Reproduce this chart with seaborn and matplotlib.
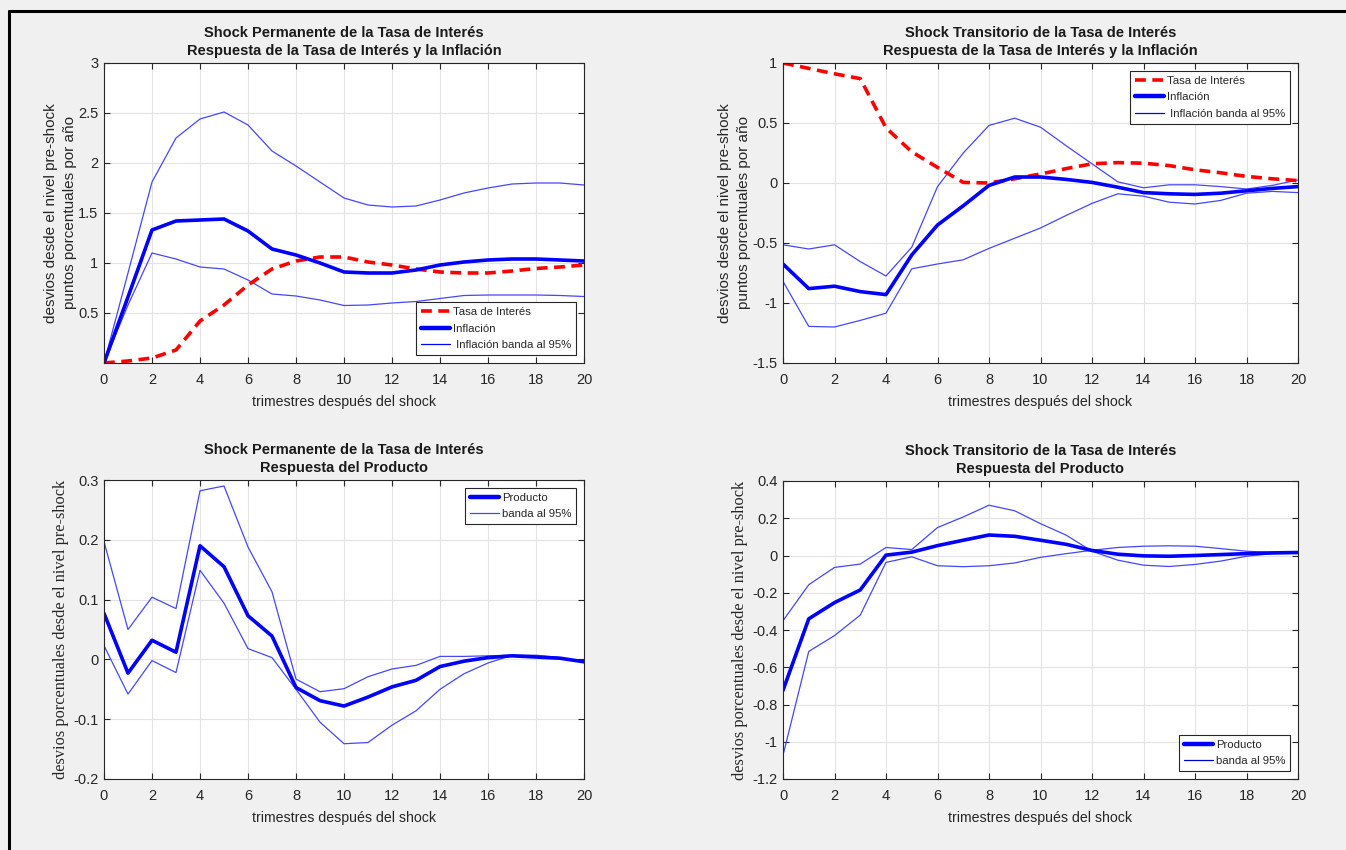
import numpy as np
import pandas as pd
import matplotlib
matplotlib.use("Agg")
import matplotlib.pyplot as plt
from matplotlib.lines import Line2D
import seaborn as sns

# ================= DATA =================
trimestres = list(range(21))

# Shock permanente - tasa e inflacion
perm_tasa = [0.0, 0.02, 0.05, 0.13, 0.42, 0.58, 0.78, 0.94, 1.02, 1.06, 1.06,
             1.01, 0.98, 0.94, 0.91, 0.90, 0.90, 0.92, 0.945, 0.96, 0.98]
perm_infl = [0.0, 0.66, 1.33, 1.42, 1.43, 1.44, 1.32, 1.14, 1.08, 1.00, 0.91,
             0.90, 0.90, 0.93, 0.98, 1.01, 1.03, 1.04, 1.04, 1.03, 1.02]
perm_infl_sup = [0.0, 0.90, 1.81, 2.25, 2.44, 2.51, 2.38, 2.12, 1.97, 1.81, 1.65,
                 1.58, 1.56, 1.57, 1.63, 1.70, 1.75, 1.79, 1.80, 1.80, 1.78]
perm_infl_inf = [0.0, 0.58, 1.10, 1.04, 0.96, 0.94, 0.83, 0.69, 0.67, 0.63, 0.575,
                 0.58, 0.60, 0.615, 0.645, 0.675, 0.68, 0.68, 0.68, 0.675, 0.665]

# Shock transitorio - tasa e inflacion
trans_tasa = [1.0, 0.955, 0.91, 0.87, 0.46, 0.26, 0.13, 0.005, 0.0, 0.035, 0.075,
              0.12, 0.16, 0.17, 0.165, 0.145, 0.11, 0.085, 0.055, 0.035, 0.02]
trans_infl = [-0.675, -0.88, -0.86, -0.905, -0.93, -0.60, -0.35, -0.19, -0.02, 0.05, 0.05,
              0.03, 0.005, -0.035, -0.08, -0.09, -0.095, -0.085, -0.065, -0.045, -0.03]
trans_infl_sup = [-0.515, -0.55, -0.515, -0.655, -0.775, -0.535, -0.03, 0.25, 0.48, 0.54, 0.465,
                  0.31, 0.16, 0.01, -0.04, -0.015, -0.015, -0.03, -0.05, -0.02, 0.025]
trans_infl_inf = [-0.82, -1.195, -1.20, -1.145, -1.085, -0.715, -0.675, -0.64, -0.545, -0.46, -0.375,
                  -0.27, -0.17, -0.09, -0.11, -0.16, -0.175, -0.145, -0.085, -0.07, -0.08]

# Shock permanente - producto
perm_prod = [0.077, -0.023, 0.032, 0.012, 0.19, 0.155, 0.073, 0.039, -0.047, -0.069, -0.078,
             -0.063, -0.046, -0.035, -0.012, -0.003, 0.003, 0.006, 0.004, 0.002, -0.004]
perm_prod_sup = [0.197, 0.05, 0.104, 0.085, 0.282, 0.29, 0.188, 0.113, -0.033, -0.054, -0.049,
                 -0.029, -0.016, -0.01, 0.005, 0.005, 0.006, 0.007, 0.007, 0.003, -0.004]
perm_prod_inf = [0.023, -0.058, -0.002, -0.022, 0.149, 0.094, 0.018, 0.003, -0.05, -0.105, -0.141,
                 -0.139, -0.11, -0.086, -0.05, -0.024, -0.006, 0.007, 0.004, 0.002, -0.004]

# Shock transitorio - producto
trans_prod = [-0.724, -0.34, -0.253, -0.185, 0.002, 0.018, 0.053, 0.082, 0.11, 0.103, 0.082,
              0.06, 0.027, 0.007, -0.002, -0.004, 0.0, 0.005, 0.01, 0.014, 0.016]
trans_prod_sup = [-0.35, -0.157, -0.064, -0.046, 0.043, 0.032, 0.15, 0.207, 0.27, 0.24, 0.171,
                  0.109, 0.023, -0.025, -0.052, -0.059, -0.048, -0.03, -0.004, 0.01, 0.012]
trans_prod_inf = [-1.073, -0.515, -0.43, -0.32, -0.037, -0.007, -0.055, -0.06, -0.055, -0.04, -0.01,
                  0.01, 0.028, 0.043, 0.05, 0.052, 0.05, 0.037, 0.023, 0.016, 0.012]

xticks = list(range(0, 21, 2))
yticks_perm_infl = [0.5, 1, 1.5, 2, 2.5, 3]
yticks_trans_infl = [-1.5, -1, -0.5, 0, 0.5, 1]
yticks_perm_prod = [-0.2, -0.1, 0, 0.1, 0.2, 0.3]
yticks_trans_prod = [-1.2, -1, -0.8, -0.6, -0.4, -0.2, 0, 0.2, 0.4]

# ================= STYLE =================
sns.set_theme(style="whitegrid")
plt.rcParams['font.family'] = ['Liberation Sans', 'DejaVu Sans']
plt.rcParams.update({
    'figure.facecolor': '#f0f0f0',
    'axes.facecolor': 'white',
    'axes.edgecolor': '#262626',
    'axes.linewidth': 0.8,
    'grid.color': '#e3e3e3',
    'grid.linewidth': 0.8,
    'xtick.direction': 'in',
    'ytick.direction': 'in',
    'xtick.color': '#262626',
    'ytick.color': '#262626',
    'xtick.labelcolor': '#262626',
    'ytick.labelcolor': '#262626',
    'xtick.labelsize': 10.5,
    'ytick.labelsize': 10.5,
    'xtick.major.size': 4,
    'ytick.major.size': 4,
    'xtick.major.width': 0.8,
    'ytick.major.width': 0.8,
    'xtick.major.pad': 7,
    'ytick.major.pad': 4,
    'xtick.bottom': True,
    'xtick.top': True,
    'ytick.left': True,
    'ytick.right': True,
    'xtick.labeltop': False,
    'ytick.labelright': False,
})

RED = '#ff0000'
BLUE = '#0000ff'
BAND = '#4646ff'
THICK = 2.6
THIN = 0.9

W, H = 1346, 850
fig = plt.figure(figsize=(W / 100, H / 100), dpi=100)


def px_axes(left, right, top, bottom):
    return fig.add_axes([left / W, 1 - bottom / H, (right - left) / W, (bottom - top) / H])


ax1 = px_axes(104, 584, 63, 363)
ax2 = px_axes(783, 1298, 63, 363)
ax3 = px_axes(104, 584, 480, 779)
ax4 = px_axes(783, 1298, 481, 779)


def line(ax, y, color, lw, ls='-', dashes=None):
    df = pd.DataFrame({'t': trimestres, 'v': y})
    sns.lineplot(data=df, x='t', y='v', ax=ax, color=color, linewidth=lw,
                 linestyle=ls, legend=False, sort=False)
    if dashes is not None:
        ax.lines[-1].set_dashes(dashes)


def style_axes(ax, yticks, ylim, title, ylabel, serif=False):
    ax.set_xlim(0, 20)
    ax.set_ylim(*ylim)
    ax.set_xticks(xticks)
    ax.set_yticks(yticks)
    ax.set_yticklabels([f'{v:g}' for v in yticks])
    ax.grid(True)
    ax.set_title(title, fontsize=10.5, fontweight='bold', color='#1a1a1a',
                 pad=6, linespacing=1.35)
    ax.set_xlabel('trimestres después del shock', fontsize=10.2, color='#262626', labelpad=6)
    if serif:
        ax.set_ylabel(ylabel, fontsize=11.8, color='#262626', family='Liberation Serif', labelpad=3)
    else:
        ax.set_ylabel(ylabel, fontsize=11, color='#262626', labelpad=1, linespacing=1.4)
    for s in ax.spines.values():
        s.set_visible(True)
        s.set_color('#262626')
        s.set_linewidth(0.8)


def legend(ax, handles, labels, loc):
    leg = ax.legend(handles, labels, loc=loc, fontsize=8.2, frameon=True, fancybox=False,
                    edgecolor='#262626', framealpha=1, borderpad=0.4, labelspacing=0.6,
                    handlelength=2.6, handletextpad=0.25, borderaxespad=0.7)
    leg.get_frame().set_linewidth(0.8)


h_tasa = Line2D([], [], color=RED, lw=THICK, dashes=(3, 1.8))
h_infl = Line2D([], [], color=BLUE, lw=THICK + 0.6)
h_band = Line2D([], [], color=BLUE, lw=THIN)

ylab_top = 'desvios desde el nivel pre-shock\npuntos porcentuales por año'
ylab_bot = 'desvios porcentuales desde el nivel pre-shock'

# ---- Panel 1 ----
line(ax1, perm_infl_sup, BAND, THIN)
line(ax1, perm_infl_inf, BAND, THIN)
line(ax1, perm_tasa, RED, THICK, dashes=(3, 1.8))
line(ax1, perm_infl, BLUE, THICK)
style_axes(ax1, yticks_perm_infl, (0, 3),
           'Shock Permanente de la Tasa de Interés\nRespuesta de la Tasa de Interés y la Inflación',
           ylab_top)
legend(ax1, [h_tasa, h_infl, h_band], ['Tasa de Interés', 'Inflación', ' Inflación banda al 95%'],
       'lower right')

# ---- Panel 2 ----
line(ax2, trans_infl_sup, BAND, THIN)
line(ax2, trans_infl_inf, BAND, THIN)
line(ax2, trans_tasa, RED, THICK, dashes=(3, 1.8))
line(ax2, trans_infl, BLUE, THICK)
style_axes(ax2, yticks_trans_infl, (-1.5, 1),
           'Shock Transitorio de la Tasa de Interés\nRespuesta de la Tasa de Interés y la Inflación',
           ylab_top)
legend(ax2, [h_tasa, h_infl, h_band], ['Tasa de Interés', 'Inflación', ' Inflación banda al 95%'],
       'upper right')

# ---- Panel 3 ----
line(ax3, perm_prod_sup, BAND, THIN)
line(ax3, perm_prod_inf, BAND, THIN)
line(ax3, perm_prod, BLUE, THICK)
style_axes(ax3, yticks_perm_prod, (-0.2, 0.3),
           'Shock Permanente de la Tasa de Interés\nRespuesta del Producto',
           ylab_bot, serif=True)
legend(ax3, [h_infl, Line2D([], [], color=BAND, lw=THIN)], ['Producto', 'banda al 95%'],
       'upper right')

# ---- Panel 4 ----
line(ax4, trans_prod_sup, BAND, THIN)
line(ax4, trans_prod_inf, BAND, THIN)
line(ax4, trans_prod, BLUE, THICK)
style_axes(ax4, yticks_trans_prod, (-1.2, 0.4),
           'Shock Transitorio de la Tasa de Interés\nRespuesta del Producto',
           ylab_bot, serif=True)
legend(ax4, [h_infl, Line2D([], [], color='#0000cc', lw=THIN)], ['Producto', 'banda al 95%'],
       'lower right')

# black window border (top and left)
fig.add_artist(Line2D([8.5 / W, 1], [1 - 11 / H, 1 - 11 / H], transform=fig.transFigure,
                      color='black', lw=2.2))
fig.add_artist(Line2D([8.5 / W, 8.5 / W], [0, 1 - 11 / H], transform=fig.transFigure,
                      color='black', lw=2.2))

fig.savefig('out.png', dpi=100, facecolor=fig.get_facecolor())
